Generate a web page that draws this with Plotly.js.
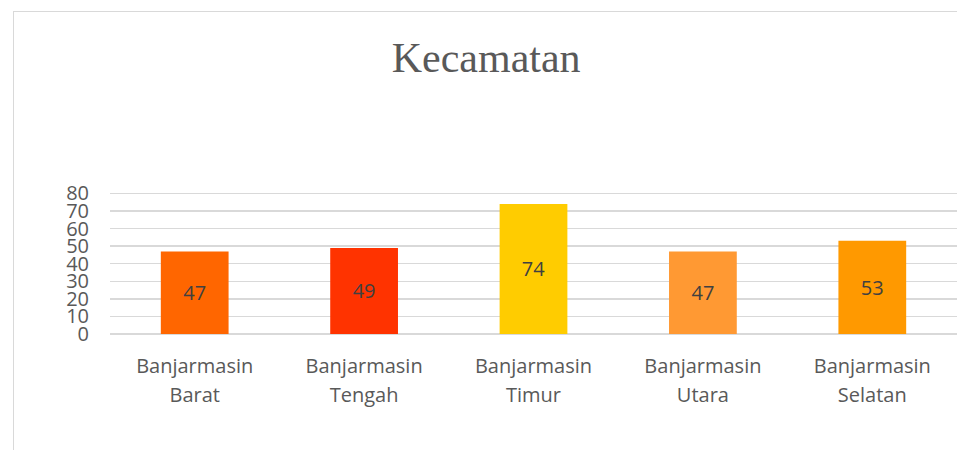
<!DOCTYPE html>
<html>
<head>
<meta charset="utf-8">
<script src="https://cdn.plot.ly/plotly-3.0.1.min.js"></script>
<style>
  html, body { margin: 0; padding: 0; background: #fff; overflow: hidden; }
  #frame { position: absolute; left: 13px; top: 11px; width: 1000px; height: 500px;
           border: 1.5px solid #d9d9d9; box-sizing: border-box; pointer-events: none; z-index: 5; }
  #chart { position: absolute; left: 0; top: 0; width: 957px; height: 450px; }
</style>
</head>
<body>
<div id="chart"></div>
<div id="frame"></div>
<script>
const categories = ["Banjarmasin Barat", "Banjarmasin Tengah", "Banjarmasin Timur", "Banjarmasin Utara", "Banjarmasin Selatan"];
const labelLine1 = ["Banjarmasin", "Banjarmasin", "Banjarmasin", "Banjarmasin", "Banjarmasin"];
const labelLine2 = ["Barat", "Tengah", "Timur", "Utara", "Selatan"];
const values = [47, 49, 74, 47, 53];
const barColors = ["#FF6600", "#FF3300", "#FFCC00", "#FF9933", "#FF9900"];
const yTicks = [0, 10, 20, 30, 40, 50, 60, 70, 80];

const trace = {
  type: "bar",
  x: categories,
  y: values,
  marker: { color: barColors },
  width: 0.4,
  text: values.map(String),
  textposition: "inside",
  insidetextanchor: "middle",
  textangle: 0,
  textfont: { family: "Open Sans", size: 20, color: "#404040" },
  hoverinfo: "none"
};

// invisible trace on the second x axis so its category ticks are drawn
const trace2 = {
  type: "bar",
  x: categories,
  y: values.map(() => 0),
  xaxis: "x2",
  yaxis: "y",
  marker: { color: "rgba(0,0,0,0)" },
  showlegend: false,
  hoverinfo: "none"
};

const axisFont = { family: "Open Sans", size: 20, color: "#595959" };

const layout = {
  width: 957,
  height: 450,
  margin: { l: 110, r: 0, t: 192.1, b: 116 },
  paper_bgcolor: "rgba(0,0,0,0)",
  plot_bgcolor: "rgba(0,0,0,0)",
  showlegend: false,
  title: {
    text: "Kecamatan",
    font: { family: "Liberation Serif", size: 42, color: "#595959" },
    x: 0.508, xanchor: "center",
    y: 1 - 57 / 450, yref: "container", yanchor: "middle"
  },
  xaxis: {
    type: "category",
    categoryarray: categories,
    tickvals: categories,
    ticktext: labelLine1,
    showgrid: false,
    zeroline: false,
    showline: false,
    ticks: "",
    tickfont: axisFont,
    ticklabelstandoff: 18,
    fixedrange: true
  },
  xaxis2: {
    type: "category",
    overlaying: "x",
    matches: "x",
    side: "bottom",
    categoryarray: categories,
    tickvals: categories,
    ticktext: labelLine2,
    showgrid: false,
    zeroline: false,
    showline: false,
    ticks: "",
    tickfont: axisFont,
    ticklabelstandoff: 47,
    fixedrange: true
  },
  yaxis: {
    range: [0, 80.8],
    tickvals: yTicks,
    ticktext: yTicks.map(String),
    showgrid: true,
    gridcolor: "#D9D9D9",
    gridwidth: 1.5,
    zeroline: true,
    zerolinecolor: "#D9D9D9",
    zerolinewidth: 1.5,
    showline: false,
    ticks: "",
    tickfont: axisFont,
    ticklabelstandoff: 20,
    fixedrange: true
  }
};

Plotly.newPlot("chart", [trace, trace2], layout, { displayModeBar: false, staticPlot: true });
</script>
</body>
</html>
